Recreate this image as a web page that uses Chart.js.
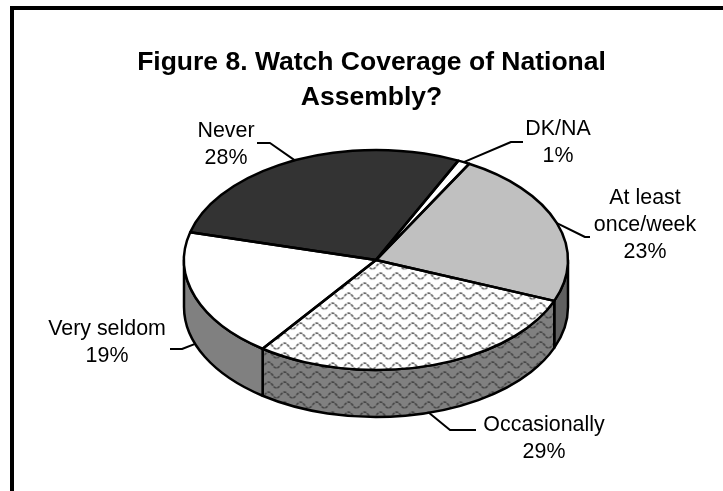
<!DOCTYPE html>
<html>
<head>
<meta charset="utf-8">
<style>
html,body{margin:0;padding:0;background:#fff;width:723px;height:491px;overflow:hidden}
#frame{position:absolute;left:10px;top:6px;right:0;bottom:0;border-left:4px solid #000;border-top:4px solid #000}
canvas{position:absolute;left:20px;top:0}
</style>
<script src="https://cdn.jsdelivr.net/npm/chart.js@4"></script>
</head>
<body>
<div id="frame"></div>
<canvas id="c" width="703" height="491"></canvas>
<script>
const titleLines = ["Figure 8. Watch Coverage of National", "Assembly?"];
const categories = ["At least once/week", "Occasionally", "Very seldom", "Never", "DK/NA"];
const values = [23, 29, 19, 28, 1];
const labelLines = [["At least", "once/week", "23%"], ["Occasionally", "29%"], ["Very seldom", "19%"], ["Never", "28%"], ["DK/NA", "1%"]];

const topColors = ["#C0C0C0", "wave", "#FFFFFF", "#333333", "#FFFFFF"];
const sideColors = ["#606060", "waveDark", "#808080", "#222222", "#808080"];
// text anchor (relative to canvas) and leader elbow/end for each label
const labelCenter = [[625, 204], [524, 431], [87, 335], [206, 137], [538, 135]];
const leaderPath = [[[565, 237], [570, 237]], [[430, 430], [456, 430]], [[162, 349], [150, 349]], [[250, 143], [237, 143]], [[491, 142], [503, 142]]];

const TILT = 110 / 192;
const DEPTH = 47;
const PIE_SHIFT = 4.5;
const FONT = '"Liberation Sans", Arial, sans-serif';

function wavePattern(bg, fg) {
  const t = document.createElement("canvas");
  t.width = 16; t.height = 10;
  const g = t.getContext("2d");
  g.fillStyle = bg; g.fillRect(0, 0, 16, 10);
  g.strokeStyle = fg; g.lineWidth = 1.5;
  g.setLineDash([3, 1]);
  g.beginPath();
  g.moveTo(0, 5);
  g.bezierCurveTo(3, 1, 5, 1, 8, 5);
  g.bezierCurveTo(11, 9, 13, 9, 16, 5);
  g.stroke();
  return t;
}
const ctxMain = document.getElementById("c").getContext("2d");
const flatPat = ctxMain.createPattern(wavePattern("#FFFFFF", "#555555"), "repeat");
flatPat.setTransform(new DOMMatrix().scale(1, 1 / TILT));
const darkPat = ctxMain.createPattern(wavePattern("#808080", "#404040"), "repeat");
function paint(c) { return c === "wave" ? flatPat : c === "waveDark" ? darkPat : c; }

const pie3d = {
  id: "pie3d",
  beforeDatasetsDraw(chart) {
    const ctx = chart.ctx, arcs = chart.getDatasetMeta(0).data;
    ctx.save();
    ctx.translate(PIE_SHIFT, 0);
    ctx.lineWidth = 2.5; ctx.strokeStyle = "#000"; ctx.lineJoin = "round";
    arcs.forEach((a, i) => {
      const ry = a.outerRadius * TILT, tau = Math.PI * 2;
      for (const k of [-1, 0, 1]) {
        const s = Math.max(a.startAngle, k * tau), e = Math.min(a.endAngle, k * tau + Math.PI);
        if (e <= s) continue;
        ctx.beginPath();
        ctx.ellipse(a.x, a.y, a.outerRadius, ry, 0, s, e);
        ctx.ellipse(a.x, a.y + DEPTH, a.outerRadius, ry, 0, e, s, true);
        ctx.closePath();
        ctx.fillStyle = paint(sideColors[i]);
        ctx.fill(); ctx.stroke();
      }
    });
    ctx.restore();
    const a0 = arcs[0];
    ctx.save();
    ctx.translate(a0.x + PIE_SHIFT, a0.y); ctx.scale(1, TILT); ctx.translate(-a0.x, -a0.y);
  },
  afterDatasetsDraw(chart) {
    const ctx = chart.ctx, arcs = chart.getDatasetMeta(0).data;
    ctx.restore();
    ctx.save();
    ctx.strokeStyle = "#000"; ctx.lineJoin = "round";
    ctx.lineWidth = 2.5;
    arcs.forEach(a => {
      ctx.beginPath();
      ctx.moveTo(a.x + PIE_SHIFT, a.y);
      ctx.ellipse(a.x + PIE_SHIFT, a.y, a.outerRadius, a.outerRadius * TILT, 0, a.startAngle, a.endAngle);
      ctx.closePath();
      ctx.stroke();
    });
    // leaders and labels
    ctx.lineWidth = 2;
    ctx.fillStyle = "#000";
    ctx.textAlign = "center"; ctx.textBaseline = "alphabetic";
    ctx.font = "21.4px " + FONT;
    arcs.forEach((a, i) => {
      const m = (a.startAngle + a.endAngle) / 2;
      const px = a.x + PIE_SHIFT + a.outerRadius * Math.cos(m);
      const sn = Math.sin(m);
      const py = a.y + a.outerRadius * TILT * sn + (sn > 0 ? DEPTH : 0);
      ctx.beginPath();
      ctx.moveTo(px, py);
      leaderPath[i].forEach(p => ctx.lineTo(p[0], p[1]));
      ctx.stroke();
      labelLines[i].forEach((t, j) => ctx.fillText(t, labelCenter[i][0], labelCenter[i][1] + j * 27));
    });
    ctx.restore();
  }
};

new Chart(ctxMain, {
  type: "pie",
  data: {
    labels: categories,
    datasets: [{
      data: values,
      backgroundColor: topColors.map(paint),
      borderWidth: 0,
      clip: false
    }]
  },
  options: {
    responsive: false,
    animation: false,
    rotation: 29,
    layout: { padding: { left: 0, right: 0, top: 0, bottom: 39 } },
    plugins: {
      legend: { display: false },
      tooltip: { enabled: false },
      title: {
        display: true,
        text: titleLines,
        color: "#000",
        font: { family: FONT, size: 26.5, weight: "bold", lineHeight: 1.321 },
        padding: { top: 45, bottom: -47 }
      }
    }
  },
  plugins: [pie3d]
});
</script>
</body>
</html>
